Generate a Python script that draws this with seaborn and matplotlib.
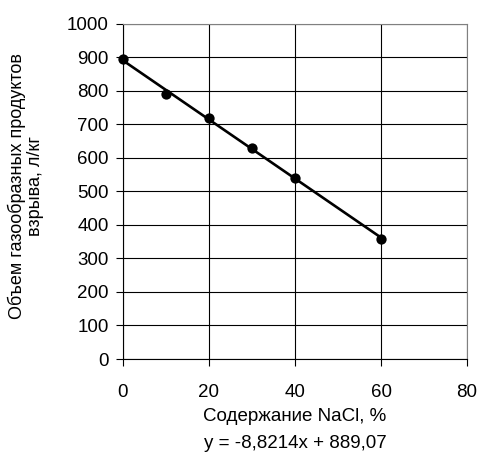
import numpy as np
import pandas as pd
import matplotlib
matplotlib.use('Agg')
import matplotlib.pyplot as plt
import seaborn as sns

# Data
nacl = [0, 10, 20, 30, 40, 60]
volume = [895, 790, 720, 630, 541, 359]
x_ticks = [0, 20, 40, 60, 80]
y_ticks = [0, 100, 200, 300, 400, 500, 600, 700, 800, 900, 1000]
equation = 'y = -8,8214x + 889,07'

df = pd.DataFrame({'nacl': nacl, 'volume': volume})

sns.set_style('white')
plt.rcParams['font.family'] = ['Liberation Sans', 'DejaVu Sans']
plt.rcParams['text.color'] = 'black'
plt.rcParams['axes.labelcolor'] = 'black'
plt.rcParams['xtick.color'] = 'black'
plt.rcParams['ytick.color'] = 'black'
fs = 13.5

fig = plt.figure(figsize=(4.8, 4.53), dpi=100)
ax = fig.add_axes([0.256, 0.2075, 0.717, 0.74])

# Trend line (least squares) and data points
sns.regplot(data=df, x='nacl', y='volume', ax=ax, ci=None, truncate=True,
            scatter_kws=dict(s=55, color='black', alpha=1, zorder=3,
                             linewidths=0, clip_on=False),
            line_kws=dict(color='black', lw=1.9, zorder=2))

ax.set_xlim(0, 80)
ax.set_ylim(0, 1000)
ax.set_xticks(x_ticks)
ax.set_yticks(y_ticks)
ax.grid(True, color='black', lw=0.8)
ax.set_axisbelow(True)
ax.tick_params(axis='both', direction='out', length=5, width=0.8, color='black',
               labelsize=fs, bottom=True, left=True)
ax.tick_params(axis='x', pad=13)
ax.tick_params(axis='y', pad=5)

for side in ['left', 'bottom']:
    ax.spines[side].set_color('black')
    ax.spines[side].set_linewidth(0.8)
for side in ['top', 'right']:
    ax.spines[side].set_color('#808080')
    ax.spines[side].set_linewidth(0.8)

ax.set_xlabel('Содержание NaCl, %', fontsize=fs, labelpad=5)
ax.set_ylabel('Объем газообразных продуктов\nвзрыва, л/кг', fontsize=13, linespacing=1.1)
ax.yaxis.set_label_coords(-0.228, 0.515)

fig.text(0.5 * (0.256 + 0.973), 1 - 444 / 453, equation, ha='center', va='center', fontsize=fs)

fig.savefig('out.png', dpi=100)
